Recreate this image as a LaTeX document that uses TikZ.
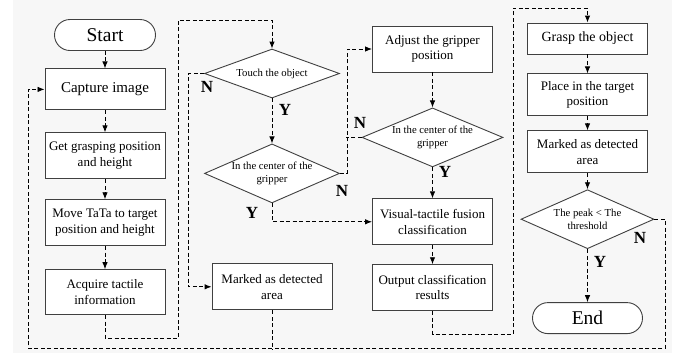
\documentclass[tikz,border=0pt]{standalone}
\usepackage{fontspec}
\setmainfont{Liberation Serif}
\usetikzlibrary{positioning, shapes.geometric, arrows.meta}

\tikzset{
	box/.style={draw=black!75, fill=white, line width=0.9bp, minimum width=120bp, minimum height=46bp, align=center, inner sep=2bp, font=\fontsize{13bp}{15.5bp}\selectfont},
	term/.style={box, rounded corners=15.5bp, minimum height=31bp, font=\fontsize{19.5bp}{22bp}\selectfont},
	check/.style={diamond, draw=black!75, fill=white, line width=0.9bp, align=center, inner sep=0bp, shape aspect=2.3, minimum width=135bp, minimum height=59bp, font=\fontsize{10.7bp}{12.5bp}\selectfont},
	flow/.style={draw=black, line width=0.9bp, dash pattern=on 4bp off 2.5bp, >={Latex[length=7bp,width=5.5bp]}},
	yn/.style={inner sep=0bp, font=\fontsize{17bp}{17bp}\selectfont\bfseries},
}

\begin{document}
\begin{tikzpicture}[x=1bp, y=-1bp]

	\useasboundingbox (0,0) rectangle (678,353);
	\fill[black!3] (13,0) rectangle (672,353);

	% first column
	\node[term, minimum width=101bp] (start) at (105,35) {Start};
	\node[box, minimum height=41bp, below=17.5bp of start, font=\fontsize{15bp}{17bp}\selectfont] (capture) {Capture image};
	\node[box, below=22bp of capture] (grasping) {Get grasping position\\and height};
	\node[box, below=20bp of grasping] (move) {Move TaTa to target\\position and height};
	\node[box, minimum height=45bp, below=23bp of move] (acquire) {Acquire tactile\\information};

	% second column
	\node[check, minimum height=49bp, shape aspect=2.7] (touch) at (272,73.5) {Touch the object};
	\node[check, below=45bp of touch] (center1) {In the center of the\\gripper};
	\node[box, below=60bp of center1] (marked1) {Marked as detected\\area};

	% third column
	\node[box] (adjust) at (432.5,49) {Adjust the gripper\\position};
	\node[check, minimum width=141bp, below=35bp of adjust] (center2) {In the center of the\\gripper};
	\node[box, below=31bp of center2] (fusion) {Visual-tactile fusion\\classification};
	\node[box, below=19bp of fusion] (output) {Output classification\\results};

	% fourth column
	\node[box, minimum height=31bp, font=\fontsize{14bp}{16bp}\selectfont] (grasp) at (587.5,38.5) {Grasp the object};
	\node[box, minimum height=42bp, below=19bp of grasp] (place) {Place in the target\\position};
	\node[box, minimum height=42bp, below=14bp of place] (marked2) {Marked as detected\\area};
	\node[check, minimum width=133bp, below=16bp of marked2] (peak) {The peak < The\\threshold};
	\node[term, minimum width=110bp, below=53bp of peak] (end) {End};

	% Y / N labels
	\node[yn] (touchN) at (207,87) {N};
	\node[yn] (touchY) at (285,110) {Y};
	\node[yn] (center1N) at (342,191) {N};
	\node[yn] (center1Y) at (252,213) {Y};
	\node[yn] (center2N) at (360,123) {N};
	\node[yn] (center2Y) at (445,172) {Y};
	\node[yn] (peakN) at (640,238) {N};
	\node[yn] (peakY) at (600,262) {Y};

	\coordinate (topLeft) at (178,20);
	\coordinate (topRight) at (513,8);
	\coordinate (bottomLeft) at (28,348);

	\draw[flow, ->]
	(start) edge (capture)
	(capture) edge (grasping)
	(grasping) edge (move)
	(move) edge (acquire)
	(touch) edge (center1)
	(adjust) edge (center2)
	(center2) edge (fusion)
	(fusion) edge (output)
	(grasp) edge (place)
	(place) edge (marked2)
	(marked2) edge (peak)
	(peak) edge (end);

	\draw[flow, ->] (acquire.south) -- ++(0,23) -| (topLeft) -| (touch.north);
	\draw[flow, ->] (touch.west) -- ++(-16,0) |- (marked1.west);
	\draw[flow, ->] (center1.east) -- ++(7,0) |- (adjust.west);
	\draw[flow] (center2.west) -- ++(-15.5,0);
	\draw[flow, ->] (center1.south) |- (fusion.west);
	\draw[flow, ->] (output.south) -- ++(0,23) -| (topRight) -| (grasp.north);
	\draw[flow, ->] (peak.east) -- ++(11,0) |- (bottomLeft) |- (capture.west);
	\draw[flow] (marked1.south) -- ++(0,40);

\end{tikzpicture}
\end{document}
